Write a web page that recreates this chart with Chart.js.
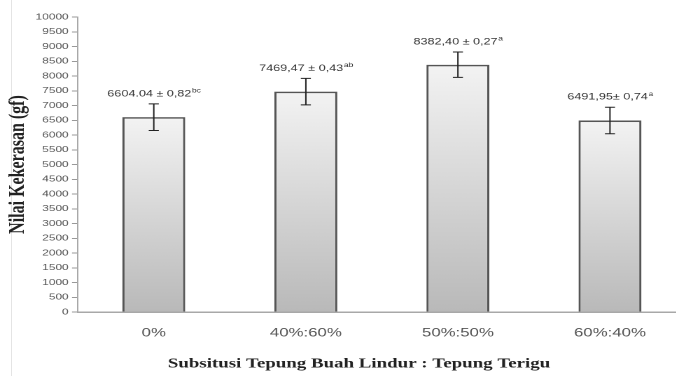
<!DOCTYPE html>
<html lang="id">
<head>
  <meta charset="UTF-8">
  <title>Nilai Kekerasan</title>
  <script src="https://cdn.jsdelivr.net/npm/chart.js"></script>
  <style>
    html, body {
      margin: 0;
      padding: 0;
      background: #fff;
      width: 676px;
      height: 376px;
      overflow: hidden;
    }

    .frame-line {
      position: absolute;
      left: 11px;
      top: 0;
      width: 1px;
      height: 376px;
      background: #e4e4e4;
    }

    /* the original picture is stretched sideways, so is this one */
    .chart-wrap {
      position: absolute;
      left: 0;
      top: 0;
      width: 490px;
      height: 376px;
      transform: scaleX(1.4);
      transform-origin: 0 0;
    }
  </style>
</head>
<body>

<div class="frame-line"></div>
<div class="chart-wrap">
  <canvas id="hardnessChart" width="490" height="376"></canvas>
</div>

<script>
  const categories = ['0%', '40%:60%', '50%:50%', '60%:40%'];
  const hardness = [6604.04, 7469.47, 8382.40, 6491.95];
  const errorBars = [450, 450, 430, 450];
  const valueLabels = ['6604.04 ± 0,82', '7469,47 ± 0,43', '8382,40 ± 0,27', '6491,95± 0,74'];
  const letters = ['bc', 'ab', 'a', 'a'];
  const xTitle = 'Subsitusi Tepung Buah Lindur : Tepung Terigu';
  const yTitle = 'Nilai Kekerasan (gf)';

  const yMin = 0;
  const yMax = 10000;
  const yStep = 500;

  // gradient per bar, light at the top, darker at the base
  function barFill(ctx) {
    const chart = ctx.chart;
    if (!chart.chartArea || !chart.scales.y) return '#d8d8d8';
    const y = chart.scales.y;
    const top = y.getPixelForValue(hardness[ctx.dataIndex]);
    const bottom = y.getPixelForValue(0);
    const g = chart.ctx.createLinearGradient(0, top, 0, bottom);
    g.addColorStop(0, '#f3f3f3');
    g.addColorStop(1, '#b9b9b9');
    return g;
  }

  const errorAndLabels = {
    id: 'errorAndLabels',
    afterDatasetsDraw(chart) {
      const ctx = chart.ctx;
      const y = chart.scales.y;
      const meta = chart.getDatasetMeta(0);
      const mainFont = '9px "Liberation Sans", Arial, sans-serif';
      const supFont = '6px "Liberation Sans", Arial, sans-serif';
      ctx.save();
      meta.data.forEach((bar, i) => {
        const x = bar.x;
        const hi = y.getPixelForValue(hardness[i] + errorBars[i]);
        const lo = y.getPixelForValue(hardness[i] - errorBars[i]);

        ctx.strokeStyle = '#222';
        ctx.lineWidth = 1;
        ctx.beginPath();
        ctx.moveTo(x, hi); ctx.lineTo(x, lo);
        ctx.moveTo(x - 3.6, hi); ctx.lineTo(x + 3.6, hi);
        ctx.moveTo(x - 3.6, lo); ctx.lineTo(x + 3.6, lo);
        ctx.stroke();

        // value ± sd with the letter raised after it
        ctx.fillStyle = '#333';
        ctx.textBaseline = 'middle';
        ctx.font = mainFont;
        const mainW = ctx.measureText(valueLabels[i]).width;
        ctx.font = supFont;
        const supW = ctx.measureText(letters[i]).width;
        const left = x - (mainW + supW) / 2;
        const ty = hi - 10;
        ctx.textAlign = 'left';
        ctx.font = mainFont;
        ctx.fillText(valueLabels[i], left, ty);
        ctx.font = supFont;
        ctx.fillText(letters[i], left + mainW + 0.5, ty - 3);
      });
      ctx.restore();
    },
    afterDraw(chart) {
      // x title sits a bit left of the axis centre in the original
      const ctx = chart.ctx;
      ctx.save();
      ctx.fillStyle = '#222';
      ctx.font = 'bold 13.5px "Liberation Serif", "Times New Roman", serif';
      ctx.textAlign = 'center';
      ctx.textBaseline = 'middle';
      ctx.fillText(xTitle, 256.4, 364);
      ctx.restore();
    }
  };

  new Chart(document.getElementById('hardnessChart'), {
    type: 'bar',
    data: {
      labels: categories,
      datasets: [{
        data: hardness,
        backgroundColor: barFill,
        borderColor: '#555',
        borderWidth: 1.6,
        barPercentage: 0.414,
        categoryPercentage: 1
      }]
    },
    options: {
      responsive: false,
      devicePixelRatio: 2,
      animation: false,
      layout: {
        padding: { top: 17, right: 0, bottom: 22, left: 0 }
      },
      plugins: {
        legend: { display: false },
        tooltip: { enabled: false }
      },
      scales: {
        x: {
          grid: { display: false, drawTicks: false },
          border: { display: true, color: '#a8a8a8', width: 1.5 },
          ticks: {
            padding: 13.8,
            color: '#555',
            font: { family: '"Liberation Sans", Arial, sans-serif', size: 12 }
          }
        },
        y: {
          min: yMin,
          max: yMax,
          grid: {
            drawOnChartArea: false,
            drawTicks: true,
            tickLength: 4.1,
            color: '#999'
          },
          border: { display: true, color: '#a8a8a8', width: 1 },
          ticks: {
            stepSize: yStep,
            padding: 2.4,
            color: '#555',
            font: { family: '"Liberation Sans", Arial, sans-serif', size: 8.5 },
            callback: (value) => String(value)
          },
          title: {
            display: true,
            text: yTitle,
            color: '#222',
            font: { family: '"Liberation Serif", "Times New Roman", serif', size: 16, weight: 'bold' },
            padding: { top: 3.3, bottom: 0.5 }
          }
        }
      }
    },
    plugins: [errorAndLabels]
  });
</script>

</body>
</html>
